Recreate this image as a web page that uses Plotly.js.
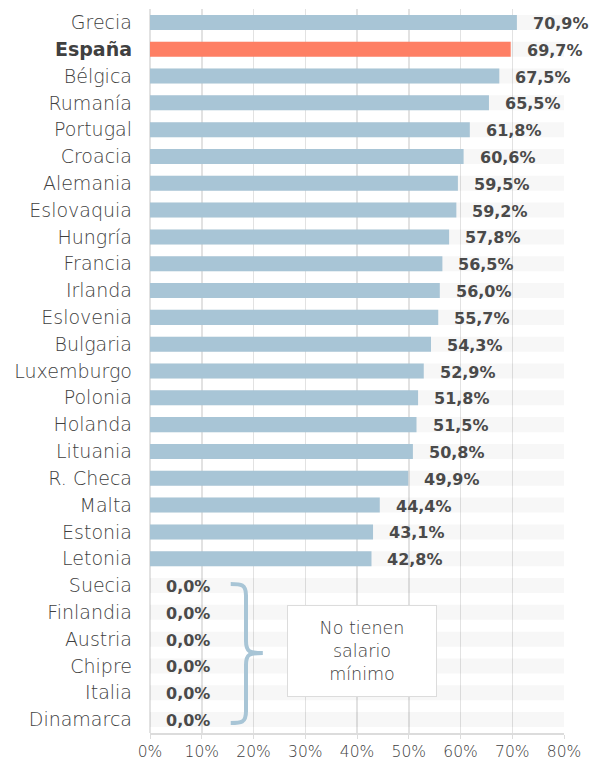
<!DOCTYPE html>
<html>
<head>
<meta charset="utf-8">
<script src="https://cdn.plot.ly/plotly-3.0.1.min.js"></script>
<style>
html,body{margin:0;padding:0;background:#fff;}
#chart{width:603px;height:767px;}
</style>
</head>
<body>
<div id="chart"></div>
<script>
const countries = ["Grecia","España","Bélgica","Rumanía","Portugal","Croacia","Alemania","Eslovaquia","Hungría","Francia","Irlanda","Eslovenia","Bulgaria","Luxemburgo","Polonia","Holanda","Lituania","R. Checa","Malta","Estonia","Letonia","Suecia","Finlandia","Austria","Chipre","Italia","Dinamarca"];
const values = [70.9,69.7,67.5,65.5,61.8,60.6,59.5,59.2,57.8,56.5,56.0,55.7,54.3,52.9,51.8,51.5,50.8,49.9,44.4,43.1,42.8,0,0,0,0,0,0];
const highlight = "España";
const xTickVals = [0,10,20,30,40,50,60,70,80];
const xTickText = ["0%","10%","20%","30%","40%","50%","60%","70%","80%"];
const noteText = "No tienen<br>salario<br>mínimo";
const xMax = 80;

const font = "'DejaVu Sans', sans-serif";
const fmt = v => v.toFixed(1).replace('.', ',') + '%';

const stripes = {
  type: 'bar', orientation: 'h',
  y: countries, x: countries.map(() => xMax),
  marker: {color: 'rgba(0,0,0,0.03)'},
  width: 0.56, hoverinfo: 'skip', showlegend: false
};
const bars = {
  type: 'bar', orientation: 'h',
  y: countries, x: values,
  marker: {color: countries.map(c => c === highlight ? '#fe7f64' : '#a8c5d6')},
  width: 0.56, hoverinfo: 'skip', showlegend: false
};

const annotations = countries.map((c, i) => ({
  x: values[i], y: c, xref: 'x', yref: 'y',
  text: '<b>' + fmt(values[i]) + '</b>',
  showarrow: false, xanchor: 'left', yanchor: 'middle', xshift: 14, yshift: -1,
  font: {family: font, size: 16, color: '#4a4a4a'}
}));
annotations.push({
  x: 40.87, y: 0.1133, xref: 'x', yref: 'paper',
  text: noteText, showarrow: false, xanchor: 'center', yanchor: 'middle',
  width: 144, height: 86, align: 'center',
  bordercolor: '#dcdcdc', borderwidth: 1, borderpad: 2, bgcolor: '#fff',
  font: {family: font, size: 17.5, color: '#404040', weight: 200}
});

const brace = {
  type: 'path', xref: 'x', yref: 'paper',
  path: 'M 15.6,0.2058 C 17.6,0.2058 18.55,0.2058 18.55,0.19 L 18.55,0.127 C 18.55,0.112 19.2,0.1105 21.8,0.1105 C 19.2,0.1105 18.55,0.109 18.55,0.094 L 18.55,0.03 C 18.55,0.0138 17.6,0.0138 15.6,0.0138',
  line: {color: '#a8c5d6', width: 4}
};

const layout = {
  width: 603, height: 767,
  margin: {l: 150, r: 39, t: 9, b: 34},
  paper_bgcolor: '#fff', plot_bgcolor: '#fff',
  barmode: 'overlay',
  font: {family: font, color: '#404040'},
  xaxis: {
    range: [0, xMax], tickvals: xTickVals, ticktext: xTickText,
    showgrid: true, gridcolor: '#e2e2e2', gridwidth: 1.5,
    zeroline: true, zerolinecolor: '#e2e2e2', zerolinewidth: 1.5,
    showline: true, linecolor: '#dcdcdc', linewidth: 1.5,
    ticks: 'outside', ticklen: 4, tickcolor: '#dcdcdc',
    tickfont: {family: font, size: 15.5, color: '#404040', weight: 200}, fixedrange: true
  },
  yaxis: {
    type: 'category', autorange: 'reversed',
    tickvals: countries,
    ticktext: countries.map(c => c === highlight ? '<b>' + c + '</b>' : c),
    showgrid: false, zeroline: false, showline: false, ticks: '',
    ticklabelstandoff: 17,
    tickfont: {family: font, size: 19, color: '#404040', weight: 200}, fixedrange: true
  },
  annotations: annotations,
  shapes: [brace]
};

Plotly.newPlot('chart', [stripes, bars], layout, {displayModeBar: false, staticPlot: true});
</script>
</body>
</html>
